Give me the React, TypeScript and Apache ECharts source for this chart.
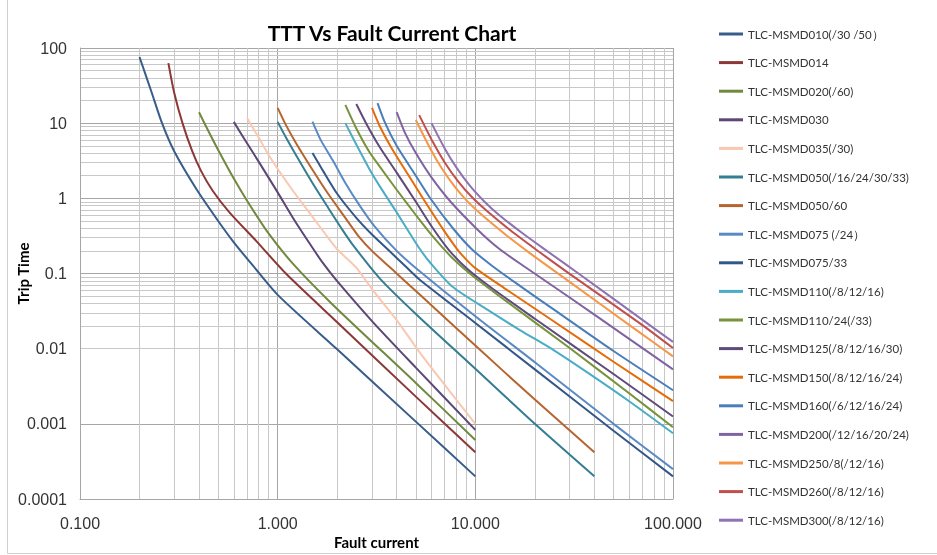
import React, { useEffect, useRef } from "react";
import * as echarts from "echarts";

// ---- data (current [A], trip time [s]) ----
const seriesNames = [
  "TLC-MSMD010(/30 /50）",
  "TLC-MSMD014",
  "TLC-MSMD020(/60)",
  "TLC-MSMD030",
  "TLC-MSMD035(/30)",
  "TLC-MSMD050(/16/24/30/33)",
  "TLC-MSMD050/60",
  "TLC-MSMD075 (/24）",
  "TLC-MSMD075/33",
  "TLC-MSMD110(/8/12/16)",
  "TLC-MSMD110/24(/33)",
  "TLC-MSMD125(/8/12/16/30)",
  "TLC-MSMD150(/8/12/16/24)",
  "TLC-MSMD160(/6/12/16/24)",
  "TLC-MSMD200(/12/16/20/24)",
  "TLC-MSMD250/8(/12/16)",
  "TLC-MSMD260(/8/12/16)",
  "TLC-MSMD300(/8/12/16)",
];

const msmd010 = [[0.2, 76], [0.23, 26], [0.26, 10], [0.3, 4.2], [0.39, 1.3], [0.5, 0.5], [0.6, 0.26], [0.75, 0.127], [1, 0.052], [2, 0.0098], [5, 0.00107], [10, 0.0002]];
const msmd014 = [[0.28, 63], [0.3, 25], [0.33, 10], [0.37, 4.2], [0.41, 2.3], [0.47, 1.25], [0.57, 0.65], [0.78, 0.27], [1.1, 0.1], [2, 0.0225], [5, 0.0023], [10, 0.00042]];
const msmd020 = [[0.4, 14], [0.45, 7.5], [0.5, 4.4], [0.6, 1.83], [0.7, 0.93], [0.88, 0.37], [1.2, 0.133], [1.9, 0.0385], [5, 0.0035], [10, 0.00061]];
const msmd030 = [[0.6, 10.4], [0.7, 5.4], [0.8, 3.1], [1, 1.2], [1.2, 0.54], [1.5, 0.22], [1.7, 0.136], [2, 0.079], [3, 0.0233], [5, 0.0056], [10, 0.00083]];
const msmd035 = [[0.7, 11.7], [0.8, 6.5], [0.91, 3.6], [1.15, 1.45], [1.45, 0.64], [1.75, 0.33], [2, 0.21], [2.5, 0.12], [3, 0.062], [4, 0.024], [5.25, 0.0088], [7, 0.0033], [10, 0.001]];
const msmd050 = [[1, 10.4], [1.1, 6.5], [1.25, 3.6], [1.5, 1.6], [1.8, 0.75], [2.1, 0.4], [2.4, 0.24], [3.3, 0.085], [5, 0.029], [10, 0.0054], [20, 0.001], [40, 0.0002]];
const msmd050_60 = [[1, 16], [1.1, 9.5], [1.25, 5.2], [1.5, 2.4], [1.8, 1.15], [2.2, 0.55], [2.6, 0.3], [3, 0.2], [4, 0.1], [5.25, 0.052], [10, 0.011], [20, 0.0021], [40, 0.00042]];
const msmd075 = [[1.5, 10.5], [1.65, 6], [1.9, 3.2], [2.2, 1.6], [2.6, 0.8], [3.1, 0.42], [4, 0.2], [5.25, 0.106], [10, 0.027], [20, 0.0066], [50, 0.001], [100, 0.00025]];
const msmd075_33 = [[1.5, 4], [1.7, 2.3], [2, 1.15], [2.5, 0.55], [3, 0.33], [3.6, 0.21], [4.5, 0.12], [5.25, 0.082], [10, 0.022], [20, 0.0053], [50, 0.00081], [100, 0.0002]];
const msmd110 = [[2.2, 10], [2.5, 5.2], [2.9, 2.5], [3.3, 1.42], [4, 0.65], [4.7, 0.33], [5.25, 0.21], [5.9, 0.14], [7.7, 0.066], [11.5, 0.033], [16.8, 0.0177], [25, 0.0095], [37, 0.0048], [60, 0.002], [100, 0.00075]];
const msmd110_24 = [[2.2, 17.5], [2.5, 8.5], [2.9, 4.2], [3.3, 2.6], [4, 1.3], [5, 0.6], [6, 0.327], [7.7, 0.158], [10, 0.087], [14, 0.0448], [30, 0.0102], [60, 0.00255], [100, 0.0009]];
const msmd125 = [[2.5, 18], [2.8, 10], [3.3, 4.7], [4, 2.2], [5, 0.9], [6.1, 0.4], [7.3, 0.21], [9, 0.118], [12, 0.065], [20, 0.025], [50, 0.0046], [100, 0.00125]];
const msmd150 = [[3, 16], [3.3, 8.9], [3.8, 4.5], [4.5, 2.2], [5.5, 0.95], [6.9, 0.38], [8.1, 0.21], [9, 0.153], [10, 0.118], [14, 0.064], [25, 0.023], [50, 0.0067], [100, 0.002]];
const msmd160 = [[3.2, 18.5], [3.5, 10], [4, 5], [5, 2], [6, 0.95], [7.7, 0.4], [9.6, 0.21], [12, 0.13], [16, 0.075], [25, 0.033], [50, 0.0093], [100, 0.0028]];
const msmd200 = [[4, 14], [4.4, 7.5], [5, 4], [6, 1.9], [7.5, 0.9], [10.3, 0.38], [13.3, 0.21], [18, 0.12], [30, 0.048], [60, 0.0135], [100, 0.0053]];
const msmd250 = [[5, 11], [5.9, 4.65], [6.8, 2.45], [7.9, 1.41], [9.2, 0.89], [10.8, 0.6], [14.5, 0.316], [19, 0.184], [28, 0.088], [65, 0.0178], [100, 0.0079]];
const msmd260 = [[5.2, 12.8], [6.1, 5.6], [7, 3.0], [8.2, 1.67], [9.6, 1.04], [11.3, 0.7], [15.2, 0.367], [20.5, 0.204], [30, 0.099], [70, 0.0206], [100, 0.0102]];
const msmd300 = [[6, 10], [7, 4.6], [8, 2.6], [9.4, 1.46], [11, 0.93], [13, 0.62], [17.4, 0.34], [23, 0.2], [33.8, 0.097], [79, 0.0192], [100, 0.0123]];

const curves = [
  msmd010, msmd014, msmd020, msmd030, msmd035, msmd050, msmd050_60, msmd075, msmd075_33,
  msmd110, msmd110_24, msmd125, msmd150, msmd160, msmd200, msmd250, msmd260, msmd300,
];

const palette = [
  "#385D8A", "#8C3836", "#71893F", "#5C4776", "#F8C8B2", "#357D91", "#B6652F", "#5A8AC6", "#34578A",
  "#4BACC6", "#77933C", "#604A7B", "#E46C0A", "#4A7EBB", "#8064A2", "#F79646", "#C0504D", "#8E72B2",
];

// minor grid positions
const minorSteps = [2, 3, 4, 5, 6, 7, 8, 9];
const xDecades = [0.1, 1, 10];
const yDecades = [0.0001, 0.001, 0.01, 0.1, 1, 10];

const fmtY = (v: number) => {
  const e = Math.round(Math.log10(v));
  return e >= 0 ? String(Math.pow(10, e)) : Math.pow(10, e).toFixed(-e);
};
const fmtX = (v: number) => {
  const e = Math.round(Math.log10(v));
  return Math.pow(10, e).toFixed(3);
};

export default function App() {
  const ref = useRef<HTMLDivElement>(null);
  useEffect(() => {
    if (!ref.current) return;
    const chart = echarts.init(ref.current, null, { renderer: "svg" });
    const minorX = xDecades.flatMap((d) => minorSteps.map((m) => ({ xAxis: +(d * m).toPrecision(3) })));
    const minorY = yDecades.flatMap((d) => minorSteps.map((m) => ({ yAxis: +(d * m).toPrecision(3) })));
    const gridSeries: any = {
      name: "__grid",
      type: "line",
      data: [[0.1, 0.0001]],
      symbol: "none",
      lineStyle: { opacity: 0 },
      silent: true,
      z: 0,
      markLine: {
        z: 0,
        silent: true,
        symbol: "none",
        label: { show: false },
        emphasis: { disabled: true },
        lineStyle: { color: "#c8c8c8", width: 1, type: "solid" },
        data: [...minorX, ...minorY],
      },
    };
    const lineSeries = curves.map((c, i) => ({
      name: seriesNames[i],
      type: "line",
      data: c,
      smooth: 0.25,
      showSymbol: false,
      symbol: "none",
      z: 10,
      lineStyle: { width: 2, color: palette[i], type: "solid" },
      itemStyle: { color: palette[i] },
    }));
    chart.setOption({
      animation: false,
      textStyle: { fontFamily: "Lato" },
      graphic: [
        {
          type: "rect",
          silent: true,
          z: -10,
          shape: { x: 7.5, y: -5, width: 935, height: 558.5 },
          style: { fill: "none", stroke: "#d0d0d0", lineWidth: 1 },
        },
        {
          type: "text",
          x: 392,
          y: 32,
          style: {
            text: "TTT Vs Fault Current Chart",
            font: "bold 21px Lato",
            fill: "#000",
            textAlign: "center",
            textVerticalAlign: "middle",
          },
        },
      ],
      grid: { left: 80, right: 264, top: 48, bottom: 56, show: false, containLabel: false, outerBoundsMode: "none" },
      legend: {
        orient: "vertical",
        left: 714,
        top: 22,
        data: seriesNames,
        icon: "rect",
        itemWidth: 24,
        itemHeight: 3,
        itemGap: 14.6,
        textStyle: { fontFamily: "Lato", fontSize: 11.5, color: "#333", lineHeight: 14 },
      },
      xAxis: {
        type: "log",
        logBase: 10,
        min: 0.1,
        max: 100,
        name: "Fault current",
        nameLocation: "middle",
        nameGap: 35,
        nameMoveOverlap: false,
        nameTextStyle: { fontFamily: "Lato", fontWeight: "bold", fontSize: 15, color: "#000" },
        axisLine: { show: true, lineStyle: { color: "#a6a6a6" } },
        axisTick: { show: false },
        axisLabel: { formatter: fmtX, fontFamily: "Liberation Sans", fontSize: 16, color: "#333", margin: 16 },
        splitLine: { show: true, lineStyle: { color: "#a6a6a6", width: 1 } },
      },
      yAxis: {
        type: "log",
        logBase: 10,
        min: 0.0001,
        max: 100,
        name: "Trip Time",
        nameLocation: "middle",
        nameGap: 50,
        nameMoveOverlap: false,
        nameTextStyle: { fontFamily: "Lato", fontWeight: "bold", fontSize: 15, color: "#000" },
        axisLine: { show: true, lineStyle: { color: "#a6a6a6" } },
        axisTick: { show: false },
        axisLabel: { formatter: fmtY, fontFamily: "Liberation Sans", fontSize: 16, color: "#333", margin: 13 },
        splitLine: { show: true, lineStyle: { color: "#a6a6a6", width: 1 } },
      },
      series: [gridSeries, ...lineSeries],
    });
    return () => chart.dispose();
  }, []);
  return <div ref={ref} style={{ position: "fixed", left: 0, top: 0, width: 937, height: 555 }} />;
}
